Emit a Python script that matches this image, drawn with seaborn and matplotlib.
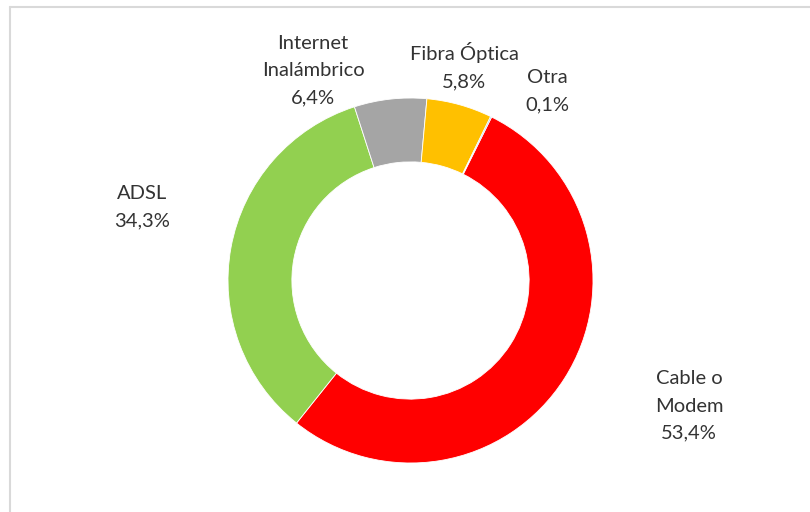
import matplotlib
matplotlib.use("Agg")
import matplotlib.pyplot as plt
from matplotlib.lines import Line2D
import seaborn as sns

# Tipo de conexión a Internet (% de hogares)
categorias = ["Cable o Modem", "ADSL", "Internet\nInalámbrico", "Fibra Óptica", "Otra"]
porcentajes = [53.4, 34.3, 6.4, 5.8, 0.1]
colores = ["#FF0000", "#92D050", "#A5A5A5", "#FFC000", "#5B9BD5"]

# posiciones de las etiquetas (pixeles de la imagen, centro del texto)
etiqueta_px = [(689, 406), (142, 207), (313, 71), (464, 66), (547, 91)]


def main():
    sns.set_theme(style="white")
    plt.rcParams["font.family"] = ["Lato", "DejaVu Sans"]

    W, H = 810, 512
    fig = plt.figure(figsize=(W / 100, H / 100), dpi=100)
    ax = fig.add_axes([0, 0, 1, 1])

    cx, cy, r = 410.5, 280.5, 182.5
    ax.pie(
        porcentajes,
        colors=colores,
        startangle=90 - 26.4,
        counterclock=False,
        radius=1,
        wedgeprops=dict(width=0.35, edgecolor="white", linewidth=0.6),
    )
    ax.set_xlim(-cx / r, (W - cx) / r)
    ax.set_ylim(-(H - cy) / r, cy / r)
    ax.set_aspect("equal")
    ax.axis("off")

    for cat, val, (px, py) in zip(categorias, porcentajes, etiqueta_px):
        pct = f"{val:.1f}%".replace(".", ",")
        nombre = "Cable o\nModem" if cat == "Cable o Modem" else cat
        ax.text((px - cx) / r, (cy - py) / r, f"{nombre}\n{pct}",
                ha="center", va="center", fontsize=14.5,
                color="#333333", linespacing=1.72)

    # marco del área del gráfico
    edge = "#D9D9D9"
    fig.add_artist(Line2D([10 / W, 1.0], [1 - 6.5 / H] * 2, color=edge, lw=1.5))
    fig.add_artist(Line2D([10 / W] * 2, [0, 1 - 6.5 / H], color=edge, lw=1.5))

    fig.savefig("out.png", dpi=100, facecolor="white")
    plt.close(fig)


if __name__ == "__main__":
    main()
